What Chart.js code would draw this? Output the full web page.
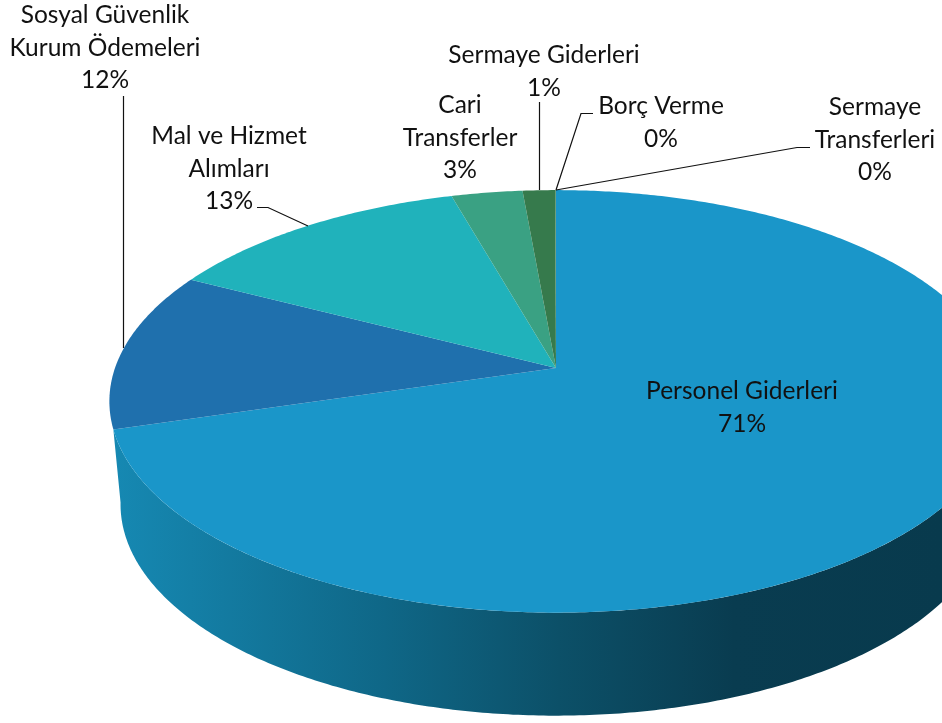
<!DOCTYPE html>
<html>
<head>
<meta charset="utf-8">
<style>
  html, body { margin: 0; padding: 0; background: #fff; overflow: hidden; }
  canvas { display: block; }
</style>
<script src="https://cdn.jsdelivr.net/npm/chart.js@4/dist/chart.umd.js"></script>
</head>
<body>
<canvas id="chart-giderler" width="942" height="723"></canvas>
<script>
const categories = ['Personel Giderleri', 'Sosyal Güvenlik Kurum Ödemeleri', 'Mal ve Hizmet Alımları', 'Cari Transferler', 'Sermaye Giderleri', 'Borç Verme', 'Sermaye Transferleri'];
const shares = [70.4, 12.2, 13.0, 3.0, 1.36, 0.02, 0.02];
const percentLabels = ['71%', '12%', '13%', '3%', '1%', '0%', '0%'];
const sliceColors = ['#1a96c9', '#1f70ad', '#20b2bb', '#3aa183', '#367a4c', '#367a4c', '#367a4c'];

// label lines per slice, last line gets the percent
const labelLines = [
    ['Personel Giderleri'],
    ['Sosyal Güvenlik', 'Kurum Ödemeleri'],
    ['Mal ve Hizmet', 'Alımları'],
    ['Cari', 'Transferler'],
    ['Sermaye Giderleri'],
    ['Borç Verme'],
    ['Sermaye', 'Transferleri'],
];
const labelX = [742, 105, 229, 460, 544, 661, 875];
const labelY = [391, 15, 136, 105, 55, 106, 107];
const lineGap = 32.7;

const leaderLines = [
    [[123.5, 96], [123.5, 348]],
    [[257, 207.5], [268, 207.5], [308, 226]],
    [[539.5, 102], [539.5, 190]],
    [[593, 113.5], [581, 113.5], [556, 190]],
    [[810, 147.5], [797, 147.5], [556, 190]],
];

// perspective disc: apex of the slices is not the centre of the ellipse
const apexX = 556, apexY = 368, radiusX = 441, radiusY = 206, tilt = 0.158;
const wallDrop = 103, bottomRadiusX = 430, bottomLeftAngle = Math.PI - 0.15;

function project(angle, drop, rx) {
    const u = Math.cos(angle), v = Math.sin(angle);
    const w = 1 - tilt * v;
    return [apexX + rx * u / w, apexY + drop + radiusY * v / w];
}

function traceArc(ctx, from, to, drop, rx) {
    const steps = Math.max(2, Math.ceil(Math.abs(to - from) / 0.01));
    for (let i = 0; i <= steps; i++) {
        const p = project(from + (to - from) * i / steps, drop, rx);
        ctx.lineTo(p[0], p[1]);
    }
}

const pie3d = {
    id: 'pie3d',
    beforeDatasetDraw(chart) {
        const ctx = chart.ctx;
        const arcs = chart.getDatasetMeta(0).data;

        // side wall of the first slice, the only one facing front
        const wallStart = -0.3;
        const grad = ctx.createLinearGradient(110, 0, 942, 0);
        grad.addColorStop(0, '#1689b3');
        grad.addColorStop(0.33, '#0f6787');
        grad.addColorStop(0.54, '#0c5068');
        grad.addColorStop(0.75, '#093c50');
        grad.addColorStop(1, '#083a4d');
        ctx.save();
        ctx.beginPath();
        traceArc(ctx, wallStart, arcs[0].endAngle, 0, radiusX);
        traceArc(ctx, bottomLeftAngle, wallStart, wallDrop, bottomRadiusX);
        ctx.closePath();
        ctx.fillStyle = grad;
        ctx.fill();

        // top face
        arcs.forEach((arc, i) => {
            ctx.beginPath();
            ctx.moveTo(apexX, apexY);
            traceArc(ctx, arc.startAngle, arc.endAngle, 0, radiusX);
            ctx.closePath();
            ctx.fillStyle = sliceColors[i];
            ctx.fill();
        });
        ctx.restore();
        return false;
    },
    afterDraw(chart) {
        const ctx = chart.ctx;
        ctx.save();
        ctx.strokeStyle = '#111';
        ctx.lineWidth = 1.2;
        leaderLines.forEach(line => {
            ctx.beginPath();
            line.forEach((p, i) => i ? ctx.lineTo(p[0], p[1]) : ctx.moveTo(p[0], p[1]));
            ctx.stroke();
        });

        ctx.fillStyle = '#111';
        ctx.font = '24.5px Lato';
        ctx.textAlign = 'center';
        ctx.textBaseline = 'middle';
        labelLines.forEach((lines, i) => {
            const rows = lines.concat(percentLabels[i]);
            rows.forEach((row, r) => ctx.fillText(row, labelX[i], labelY[i] + r * lineGap));
        });
        ctx.restore();
    }
};

new Chart(document.getElementById('chart-giderler'), {
    type: 'pie',
    data: {
        labels: categories,
        datasets: [{ data: shares, backgroundColor: sliceColors, borderWidth: 0 }]
    },
    options: {
        responsive: false,
        animation: false,
        plugins: {
            legend: { display: false },
            tooltip: { enabled: false }
        }
    },
    plugins: [pie3d]
});
</script>
</body>
</html>
